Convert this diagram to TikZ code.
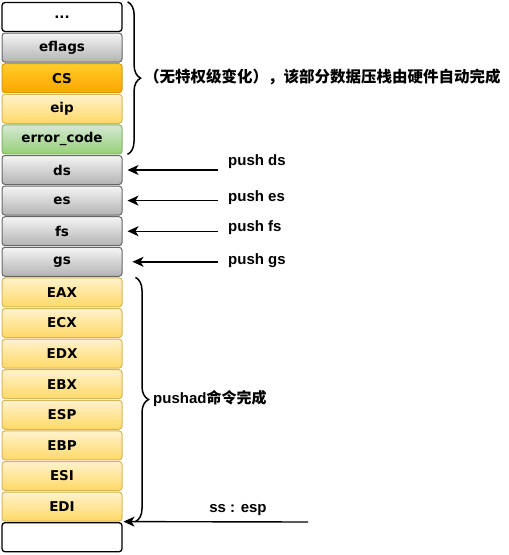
\documentclass[tikz,border=0pt]{standalone}
\usepackage{fontspec}
\setmainfont{Liberation Sans}
\newfontfamily\cjk{Noto Sans CJK SC}
\newfontfamily\slotfont{DejaVu Sans}
\usetikzlibrary{arrows.meta, decorations.pathreplacing}

\definecolor{grayTop}{HTML}{F5F5F5}
\definecolor{grayBot}{HTML}{B3B3B3}
\definecolor{grayLine}{HTML}{666666}
\definecolor{orangeTop}{HTML}{FFCD28}
\definecolor{orangeBot}{HTML}{FFA500}
\definecolor{orangeLine}{HTML}{D79B00}
\definecolor{yellowTop}{HTML}{FFF2CC}
\definecolor{yellowBot}{HTML}{FFD966}
\definecolor{yellowLine}{HTML}{D6B656}
\definecolor{greenTop}{HTML}{D5E8D4}
\definecolor{greenBot}{HTML}{97D077}
\definecolor{greenLine}{HTML}{82B366}

\tikzset{
  slot/.style={minimum width=120pt, minimum height=29pt, inner sep=0pt,
    rounded corners=3pt, line width=1pt,
    font=\slotfont\bfseries\fontsize{13.5}{15}\selectfont},
  whiteslot/.style={slot, draw=black, fill=white, line width=1.3pt},
  grayslot/.style={slot, draw=grayLine, top color=grayTop, bottom color=grayBot},
  orangeslot/.style={slot, draw=orangeLine, top color=orangeTop, bottom color=orangeBot},
  yellowslot/.style={slot, draw=yellowLine, top color=yellowTop, bottom color=yellowBot},
  greenslot/.style={slot, draw=greenLine, top color=greenTop, bottom color=greenBot},
  lbl/.style={font=\bfseries\fontsize{15}{17}\selectfont, inner sep=0pt},
  pusharrow/.style={-{Stealth[length=11pt,width=10pt,inset=3pt]}, line width=1.4pt},
  stackbrace/.style={decorate, decoration={brace, amplitude=13pt}, line width=1.5pt}
}

\begin{document}
\begin{tikzpicture}[x=1pt, y=-1pt]
	\useasboundingbox (0,0) rectangle (509,555);

	% Stack slots, top to bottom
	\foreach \nm/\txt/\sty [count=\i from 0] in {
		top/{...}/whiteslot, eflags/eflags/grayslot, cs/CS/orangeslot,
		eip/eip/yellowslot, errcode/{error\_code}/greenslot,
		ds/ds/grayslot, es/es/grayslot, fs/fs/grayslot, gs/gs/grayslot,
		eax/EAX/yellowslot, ecx/ECX/yellowslot, edx/EDX/yellowslot,
		ebx/EBX/yellowslot, esp/ESP/yellowslot, ebp/EBP/yellowslot,
		esi/ESI/yellowslot, edi/EDI/yellowslot, bottom/{}/whiteslot}
	\node[\sty] (\nm) at (62, {17+30.6*\i}) {\txt};

	% Pushed by hardware
	\draw[stackbrace] ([xshift=5pt]top.north east) -- ([xshift=5pt]errcode.south east);
	\node[anchor=west, inner sep=0pt, font=\cjk\bfseries\fontsize{15.5}{17}\selectfont] (hwnote) at (144,77)
		{（无特权级变化），该部分数据压栈由硬件自动完成};

	% Segment registers
	\node[lbl, anchor=west] (pushds) at (228,162) {push ds};
	\node[lbl, anchor=west] (pushes) at (228,198) {push es};
	\node[lbl, anchor=west] (pushfs) at (228,228) {push fs};
	\node[lbl, anchor=west] (pushgs) at (228,261) {push gs};

	\draw[pusharrow, shorten <=10pt, shorten >=5pt] (ds.east -| pushds.west) -- (ds.east);
	\draw[pusharrow, shorten <=10pt, shorten >=5pt] (es.east -| pushes.west) -- (es.east);
	\draw[pusharrow, shorten <=10pt, shorten >=5pt] (fs.east -| pushfs.west) -- (fs.east);
	\draw[pusharrow, shorten <=10pt, shorten >=10pt] (gs.east -| pushgs.west) -- (gs.east);

	% General registers
	\draw[stackbrace] ([xshift=13pt]eax.north east) -- ([xshift=13pt]edi.south east);
	\node[lbl, anchor=west] (pushadnote) at (153,398) {pushad{\cjk 命令完成}};

	% Stack pointer
	\coordinate (spstart) at (308,522);
	\node[lbl] (ssesp) at (238,510) {ss : esp};
	\draw[pusharrow, shorten >=1pt] (spstart) -- (edi.south east);
\end{tikzpicture}
\end{document}
